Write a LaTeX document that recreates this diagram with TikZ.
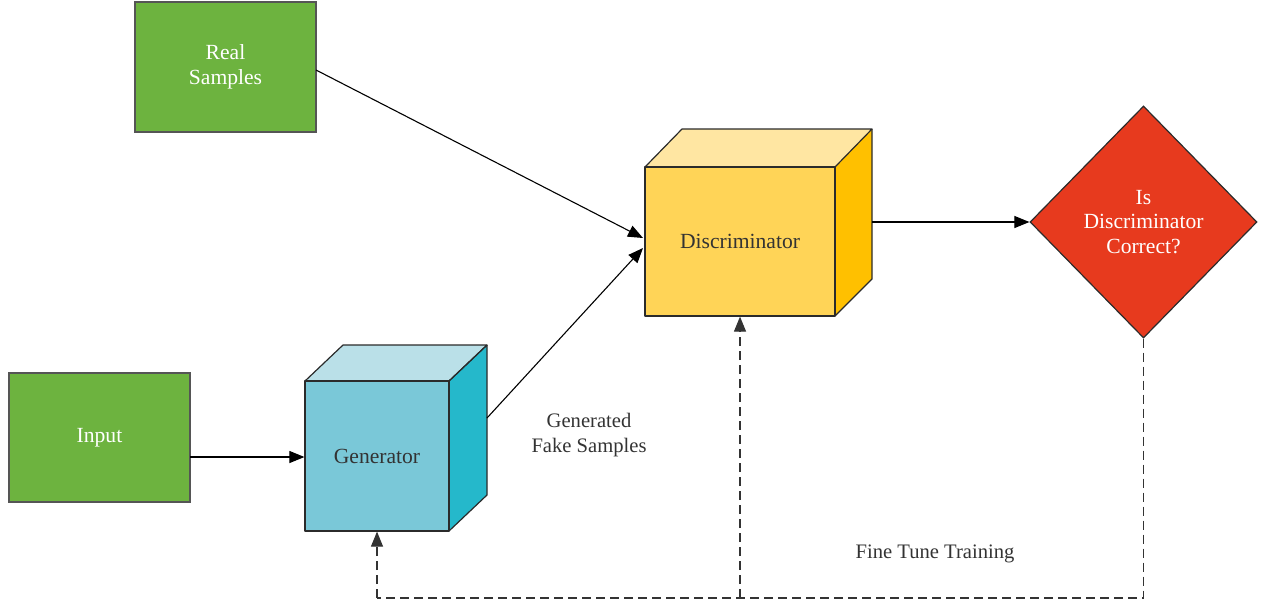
\documentclass[tikz,border=0pt]{standalone}
\usepackage{fontspec}
\setmainfont{Liberation Serif}
\usetikzlibrary{arrows.meta,shapes.geometric,calc}
\definecolor{grn}{HTML}{6DB33F}
\definecolor{gtop}{HTML}{BAE0E8}
\definecolor{gfront}{HTML}{7AC8D8}
\definecolor{gside}{HTML}{25B8CB}
\definecolor{dtop}{HTML}{FFE6A2}
\definecolor{dfront}{HTML}{FFD457}
\definecolor{dside}{HTML}{FFC000}
\definecolor{rd}{HTML}{E73A1E}
\definecolor{txt}{HTML}{333333}
\definecolor{edge}{HTML}{2B2B2B}
\tikzset{
  greenbox/.style={draw=edge!80,line width=0.6pt,fill=grn,text=white,align=center,inner sep=0pt,minimum width=90.5pt,minimum height=65pt,font=\fontsize{10.8}{12.4}\selectfont},
  face/.style={draw=edge,line width=0.6pt,line join=round},
  frontface/.style={face,inner sep=0pt,text=txt,align=center,font=\fontsize{10.8}{12.4}\selectfont},
  tip/.style={-{Triangle[length=7.5pt,width=6pt]}},
  conn/.style={draw=black,line width=0.55pt,tip},
  dconn/.style={draw=black!80,line width=0.55pt,dash pattern=on 4.5pt off 2.5pt},
  lbl/.style={text=txt,align=center,font=\fontsize{10.3}{12.4}\selectfont}
}
\begin{document}
\begin{tikzpicture}[x=0.5pt,y=-0.5pt]
\useasboundingbox (0,0) rectangle (1261,606);
% green boxes
\node[greenbox] (real) at (225.5,67) {Real\\Samples};
\node[greenbox,minimum height=64.5pt] (input) at (99.5,437.5) {Input};
% generator cube
\fill[gtop] (305,381) -- (343,345) -- (487,345) -- (449,381) -- cycle;
\fill[gside] (449,381) -- (487,345) -- (487,495) -- (449,531) -- cycle;
\draw[face] (305,381) -- (343,345) -- (487,345) -- (449,381);
\draw[face] (487,345) -- (487,495) -- (449,531);
\node[frontface,fill=gfront,minimum width=72pt,minimum height=75pt] (gen) at (377,456) {Generator};
\draw[face] (449,381) -- (487,345);
% discriminator cube
\fill[dtop] (645,167) -- (682,129) -- (872,129) -- (835,167) -- cycle;
\fill[dside] (835,167) -- (872,129) -- (872,279) -- (835,316) -- cycle;
\draw[face] (645,167) -- (682,129) -- (872,129) -- (835,167);
\draw[face] (872,129) -- (872,279) -- (835,316);
\node[frontface,fill=dfront,minimum width=95pt,minimum height=74.5pt] (disc) at (740,241.5) {Discriminator};
% diamond
\node[diamond,draw=edge,line width=0.6pt,fill=rd,text=white,align=center,inner sep=0pt,minimum width=113.5pt,minimum height=116pt,font=\fontsize{10.8}{12.4}\selectfont] (dec) at (1143.5,222) {Is\\Discriminator\\Correct?};
% coordinates
\coordinate (realout) at (316,70);
\coordinate (genout) at (487,418);
\coordinate (discin1) at (643,238);
\coordinate (discin2) at (643,248);
\coordinate (discout) at (872,222);
\coordinate (inout) at (190,457);
\coordinate (c1) at (1143.5,598);
\coordinate (c2) at (740,598);
\coordinate (c3) at (377,598);
% connectors
\draw[conn] (realout) -- (discin1);
\draw[conn] (genout) -- (discin2);
\draw[conn] (discout) -- (dec.west);
\draw[conn] (inout) -- (gen.west |- inout);
% dashed feedback
\draw[dconn] (dec.south) -- (c1) -- (c3);
\draw[dconn,tip] (c3) -- (gen.south);
\draw[dconn,tip] (c2) -- (disc.south);
% labels
\node[lbl] (fake) at (589,435) {Generated\\Fake Samples};
\node[lbl] (fine) at (935,554) {Fine Tune Training};
\end{tikzpicture}
\end{document}
